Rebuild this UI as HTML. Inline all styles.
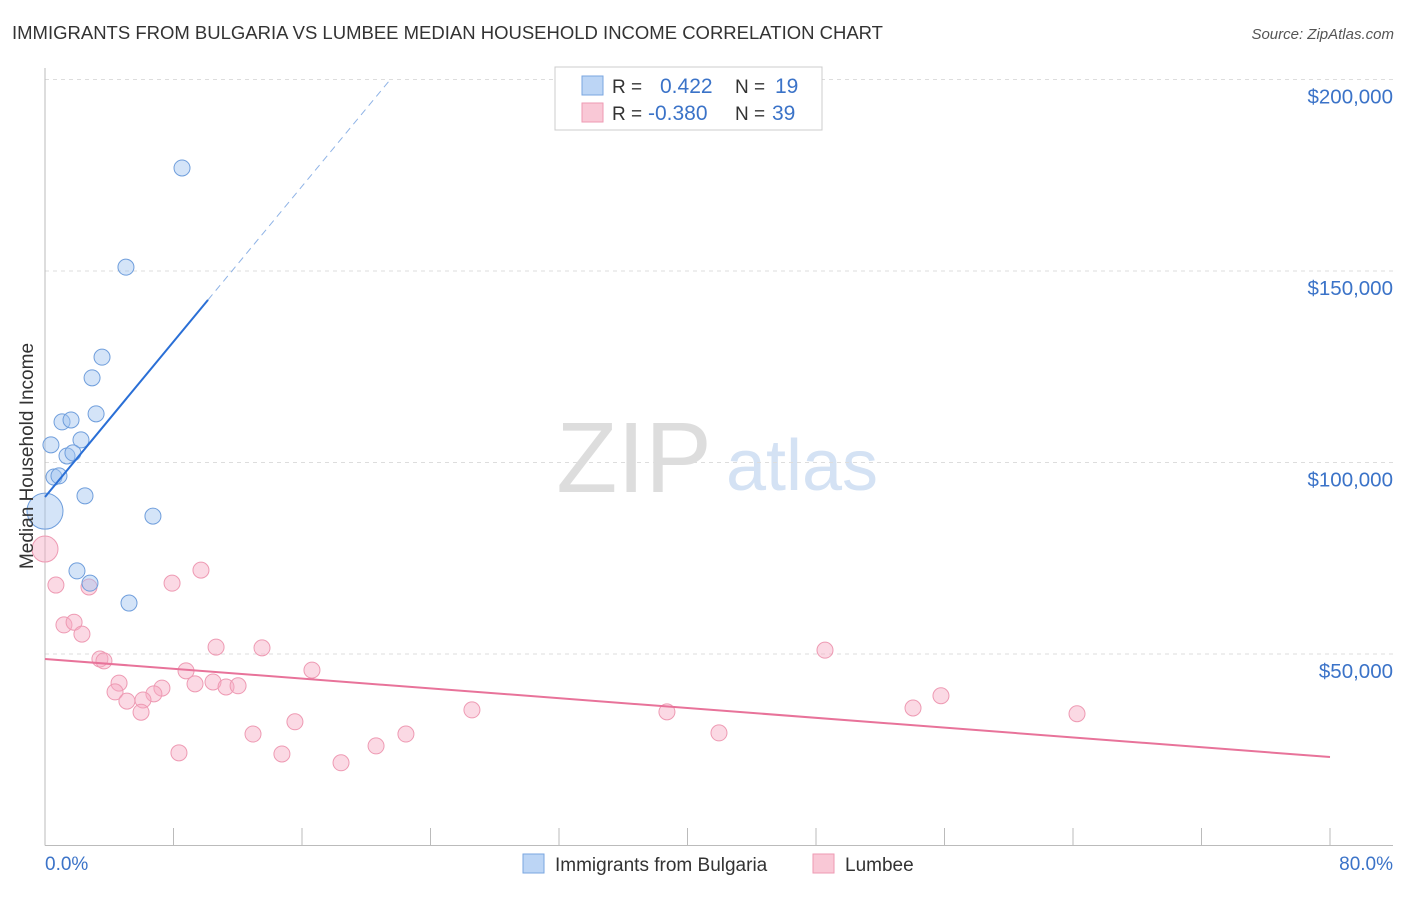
<!DOCTYPE html>
<html><head><meta charset="utf-8"><style>
body{margin:0;background:#fff;font-family:"Liberation Sans",sans-serif;}
svg text{font-family:"Liberation Sans",sans-serif;}
</style></head><body>
<svg id="c" width="1406" height="892">
<text x="12" y="39" font-size="18.5" fill="#333">IMMIGRANTS FROM BULGARIA VS LUMBEE MEDIAN HOUSEHOLD INCOME CORRELATION CHART</text>
<text x="1394" y="39" font-size="15" fill="#555" text-anchor="end" font-style="italic">Source: ZipAtlas.com</text>
<text x="634" y="492" font-size="100" fill="#ddd" font-family="Liberation Serif" text-anchor="middle">ZIP</text>
<text x="802" y="490" font-size="72" fill="#d4e2f4" text-anchor="middle">atlas</text>
<g id="grid"></g><g id="axes"></g><g id="marks"></g>
<text transform="translate(33,456) rotate(-90)" font-size="19" fill="#333" text-anchor="middle">Median Household Income</text>
<text x="45" y="870" font-size="19" fill="#3b73c8">0.0%</text>
<text x="1393" y="870" font-size="19" fill="#3b73c8" text-anchor="end">80.0%</text>
<g>
<rect x="555" y="67" width="267" height="63" fill="#fff" stroke="#ccc"/>
<rect x="582" y="76" width="21" height="19" fill="#bcd5f5" stroke="#7aa6e0"/>
<rect x="582" y="103" width="21" height="19" fill="#f9c8d6" stroke="#ee9ab3"/>
<text x="612" y="93" font-size="19" fill="#333">R =</text><text x="660" y="93" font-size="21" fill="#3b73c8">0.422</text>
<text x="735" y="93" font-size="19" fill="#333">N =</text><text x="775" y="93" font-size="21" fill="#3b73c8">19</text>
<text x="612" y="120" font-size="19" fill="#333">R =</text><text x="648" y="120" font-size="21" fill="#3b73c8">-0.380</text>
<text x="735" y="120" font-size="19" fill="#333">N =</text><text x="772" y="120" font-size="21" fill="#3b73c8">39</text>
</g>
<g>
<rect x="523" y="854" width="21" height="19" fill="#bcd5f5" stroke="#7aa6e0"/>
<text x="555" y="871" font-size="19" fill="#333">Immigrants from Bulgaria</text>
<rect x="813" y="854" width="21" height="19" fill="#f9c8d6" stroke="#ee9ab3"/>
<text x="845" y="871" font-size="19" fill="#333">Lumbee</text>
</g>
</svg>
<script>
const yTicks=[50000,100000,150000,200000];
const yTickLabels=["$50,000","$100,000","$150,000","$200,000"];
const blueX=[8.53,5.04,3.55,2.93,3.18,1.06,1.62,2.24,0.37,1.37,1.74,0.56,0.87,2.49,0.0,6.72,1.99,2.80,5.23];
const blueY=[176900,151000,127500,122100,112700,110600,111100,105900,104600,101700,102500,96200,96500,91300,87300,86000,71700,68500,63300];
const blueR=[8,8,8,8,8,8,8,8,8,8,8,8,8,8,18,8,8,8,8];
const pinkX=[0,0.68,2.74,7.91,9.71,1.18,1.81,2.30,3.42,3.67,10.65,13.51,48.56,8.78,16.62,4.61,4.36,7.28,6.78,5.10,6.10,5.98,9.34,10.46,11.27,12.02,55.78,54.04,26.58,38.72,64.25,15.56,12.95,22.47,41.96,20.61,8.34,14.75,18.43];
const pinkY=[77400,68000,67500,68500,71900,57600,58300,55200,48700,48200,51800,51600,51000,45600,45800,42400,40100,41100,39600,37700,38000,34800,42200,42700,41400,41700,39100,35900,35400,34900,34400,32300,29100,29100,29400,26000,24200,23900,21600];
const pinkR=[13,8,8,8,8,8,8,8,8,8,8,8,8,8,8,8,8,8,8,8,8,8,8,8,8,8,8,8,8,8,8,8,8,8,8,8,8,8,8];
const blueTrend=[91000,5070];
const pinkTrend=[48700,-320];
const X=v=>45+v/80*1285, Y=v=>845.5-v/50000*191.5;
const NS="http://www.w3.org/2000/svg";
function mk(t,a,p){const e=document.createElementNS(NS,t);for(const k in a)e.setAttribute(k,a[k]);p.appendChild(e);return e;}
const g=document.getElementById('grid'),ax=document.getElementById('axes'),m=document.getElementById('marks');
yTicks.forEach((v,i)=>{
const l=mk('line',{x1:45,x2:1393,y1:Y(v),y2:Y(v),stroke:'#ddd','stroke-dasharray':'4,4'},g);


const t=mk('text',{x:1393,y:Y(v)+24,'font-size':20.5,fill:'#3b73c8','text-anchor':'end'},ax);t.textContent=yTickLabels[i];


});
const xa=mk('line',{x1:45,x2:1393,y1:845.5,y2:845.5,stroke:'#bbb'},ax);


const ya=mk('line',{x1:45,x2:45,y1:68,y2:845.5,stroke:'#bbb'},ax);


for(let i=1;i<=10;i++){const t=mk('line',{x1:X(i*8),x2:X(i*8),y1:828,y2:845,stroke:'#bbb'},ax);

}
pinkX.forEach((x,i)=>{const c=mk('circle',{cx:X(x),cy:Y(pinkY[i]),r:pinkR[i],fill:'rgba(246,170,195,0.45)',stroke:'#ee9ab3','stroke-width':1},m);

});
blueX.forEach((x,i)=>{const c=mk('circle',{cx:X(x),cy:Y(blueY[i]),r:blueR[i],fill:'rgba(160,195,240,0.45)',stroke:'#6f9edc','stroke-width':1},m);

});
const bx2=10.15, bx3=(200000-blueTrend[0])/blueTrend[1];
const bl=mk('line',{x1:X(0),y1:Y(blueTrend[0]),x2:X(bx2),y2:Y(blueTrend[0]+blueTrend[1]*bx2),stroke:'#2a6fd6','stroke-width':2},m);


const bd=mk('line',{x1:X(bx2),y1:Y(blueTrend[0]+blueTrend[1]*bx2),x2:X(bx3),y2:Y(blueTrend[0]+blueTrend[1]*bx3),stroke:'#8fb3e6','stroke-width':1,'stroke-dasharray':'7,5'},m);


const pl=mk('line',{x1:X(0),y1:Y(pinkTrend[0]),x2:X(80),y2:Y(pinkTrend[0]+pinkTrend[1]*80),stroke:'#e8739a','stroke-width':2},m);


</script>
</body></html>
